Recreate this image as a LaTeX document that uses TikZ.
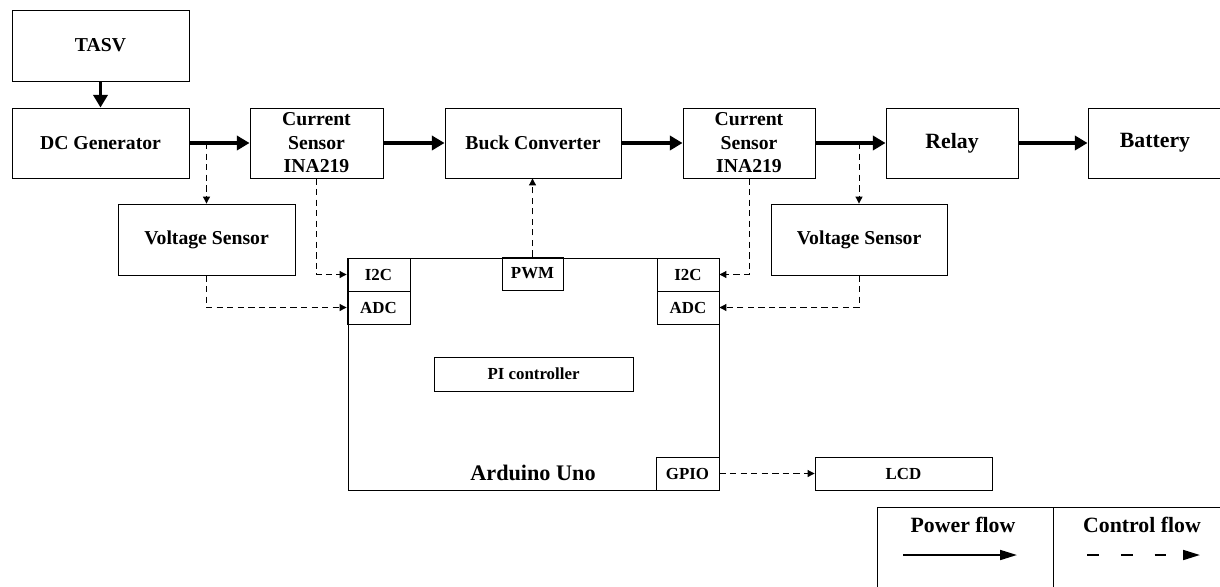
\documentclass[tikz,border=0pt]{standalone}
\usepackage{fontspec}
\setmainfont{Liberation Serif}
\usepackage{tikz}
\usetikzlibrary{arrows.meta, positioning}

\begin{document}
\begin{tikzpicture}[x=0.025cm, y=-0.025cm,
		blk/.style={draw, line width=0.6pt, inner sep=0pt, align=center, font=\fontsize{14}{16.7}\selectfont\bfseries},
		bigblk/.style={blk, font=\fontsize{15.5}{18}\selectfont\bfseries},
		port/.style={draw, line width=0.6pt, inner sep=0pt, minimum height=0.825cm, font=\fontsize{12}{14}\selectfont\bfseries},
		pwr/.style={line width=2.4pt, -{Triangle[length=9pt,width=10pt]}},
		ctrl/.style={line width=0.7pt, dash pattern=on 4.5pt off 3pt, -{Triangle[length=5pt,width=5pt]}}]
		\useasboundingbox (0,0) rectangle (1220,586);

		\node[blk, minimum width=4.425cm, minimum height=1.775cm] (tasv) at (100.5,45.5) {TASV};
		\node[blk, minimum width=4.425cm, minimum height=1.75cm] (dcg) at (100.5,143) {DC Generator};
		\node[blk, minimum width=3.325cm, minimum height=1.75cm] (cs1) at (316.5,143) {Current\\Sensor\\INA219};
		\node[blk, minimum width=4.4cm, minimum height=1.75cm] (buck) at (533,143) {Buck Converter};
		\node[blk, minimum width=3.3cm, minimum height=1.75cm] (cs2) at (749,143) {Current\\Sensor\\INA219};
		\node[bigblk, minimum width=3.3cm, minimum height=1.75cm] (relay) at (952,143) {Relay};
		\node[bigblk, minimum width=3.35cm, minimum height=1.75cm] (bat) at (1155,143) {Battery};
		\node[blk, minimum width=4.425cm, minimum height=1.775cm] (vs1) at (206.5,239.5) {Voltage Sensor};
		\node[blk, minimum width=4.4cm, minimum height=1.775cm] (vs2) at (859,239.5) {Voltage Sensor};

		\node[draw, line width=0.6pt, inner sep=0pt, minimum width=9.275cm, minimum height=5.8cm] (ard) at (533.5,374) {};
		\node[font=\fontsize{15.8}{18}\selectfont\bfseries] (ardname) at (533,473) {Arduino Uno};
		\node[port, minimum width=1.575cm] (i2cl) at (378.5,274.5) {I2C};
		\node[port, minimum width=1.575cm] (adcl) at (378.5,307.5) {ADC};
		\node[port, minimum width=1.55cm] (i2cr) at (688,274.5) {I2C};
		\node[port, minimum width=1.55cm] (adcr) at (688,307.5) {ADC};
		\node[port, minimum width=1.525cm] (pwm) at (532.5,273.5) {PWM};
		\node[port, minimum width=1.575cm] (gpio) at (687.5,473.5) {GPIO};
		\node[port, minimum width=4.975cm, minimum height=0.85cm] (pi) at (533.5,374) {PI controller};
		\node[port, minimum width=4.425cm] (lcd) at (903.5,473.5) {LCD};

		\draw[pwr] (tasv) -- (dcg);
		\draw[pwr] (dcg) -- (cs1);
		\draw[pwr] (cs1) -- (buck);
		\draw[pwr] (buck) -- (cs2);
		\draw[pwr] (cs2) -- (relay);
		\draw[pwr] (relay) -- (bat);

		\draw[ctrl] (vs1.north |- dcg.east) -- (vs1.north);
		\draw[ctrl] (vs2.north |- cs2.east) -- (vs2.north);
		\draw[ctrl] (cs1.south) |- (i2cl.west);
		\draw[ctrl] (vs1.south) |- (adcl.west);
		\draw[ctrl] (cs2.south) |- (i2cr.east);
		\draw[ctrl] (vs2.south) |- (adcr.east);
		\draw[ctrl] (pwm.north) -- (pwm.north |- buck.south);
		\draw[ctrl] (gpio.east) -- (lcd.west);

		\draw[line width=0.6pt] (1240,507) -| (877,600);
		\draw[line width=0.6pt] (1053,507) -- (1053,600);
		\node[font=\fontsize{15.5}{18}\selectfont\bfseries] (pflow) at (963,525) {Power flow};
		\node[font=\fontsize{15.5}{18}\selectfont\bfseries] (cflow) at (1142,525) {Control flow};
		\coordinate (pa) at (903,555);
		\coordinate (pb) at (1017,555);
		\coordinate (ca) at (1087,555);
		\coordinate (cb) at (1200,555);
		\draw[line width=1.5pt, -{Triangle[length=12pt,width=7pt]}] (pa) -- (pb);
		\draw[line width=1.5pt, dash pattern=on 8.5pt off 15.5pt, -{Triangle[length=12pt,width=7pt]}] (ca) -- (cb);
	\end{tikzpicture}
\end{document}
